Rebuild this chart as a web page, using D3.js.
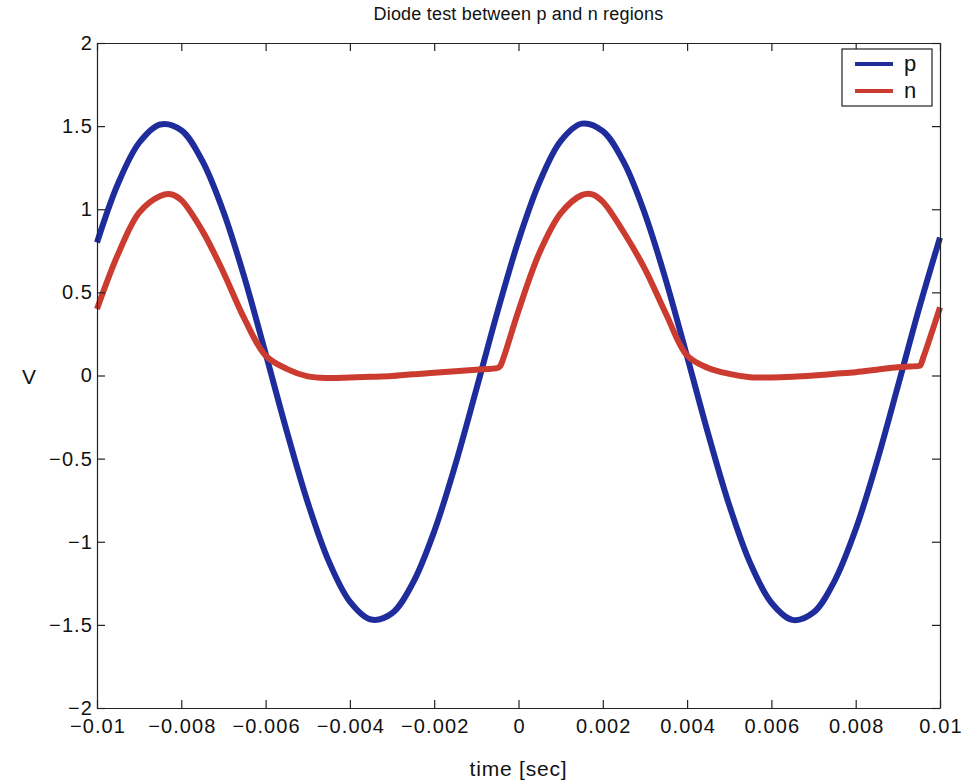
<!DOCTYPE html>
<html><head><meta charset="utf-8">
<script src="https://cdn.jsdelivr.net/npm/d3@7"></script>
<style>body{margin:0;background:#fff}svg{display:block}text{font-family:"Liberation Sans",Arial,Helvetica,sans-serif;fill:#111}</style>
</head><body><div id="chart"></div>
<script>
// time grid (sec) for p, step 0.0005 from -0.01 to 0.01
const pTime = d3.range(41).map(i => +(-0.01 + i*0.0005).toFixed(5));
const pValues = [0.80,1.155,1.40,1.51,1.475,1.29,0.985,0.587,0.132,-0.333,
  -0.764,-1.118,-1.360,-1.468,-1.43,-1.245,-0.938,-0.538,-0.083,0.382,
  0.812,1.164,1.41,1.515,1.47,1.282,0.972,0.570,0.114,-0.351,
  -0.780,-1.130,-1.367,-1.47,-1.425,-1.235,-0.925,-0.521,-0.065,0.400,0.83];
const nTime = [-0.01,-0.0095,-0.009,-0.0085,-0.00825,-0.008,-0.0075,-0.007,-0.0065,-0.006,-0.0055,
  -0.005,-0.0045,-0.004,-0.0035,-0.003,-0.0025,-0.002,-0.0015,-0.001,-0.0005,-0.00044,-0.00035,
  0,0.0005,0.001,0.0015,0.00175,0.002,0.0025,0.003,0.0035,0.004,0.0045,
  0.005,0.0055,0.006,0.0065,0.007,0.0075,0.008,0.0085,0.009,0.0095,0.00953,0.00962,0.01];
const nValues = [0.40,0.73,0.98,1.08,1.09,1.055,0.87,0.62,0.34,0.12,0.04,
  -0.005,-0.015,-0.012,-0.008,-0.003,0.008,0.016,0.025,0.035,0.045,0.055,0.11,
  0.39,0.74,0.975,1.085,1.09,1.045,0.86,0.64,0.37,0.12,0.045,
  0.01,-0.01,-0.012,-0.008,0.0,0.01,0.02,0.035,0.05,0.058,0.06,0.12,0.41];
const xTicks = [-0.01,-0.008,-0.006,-0.004,-0.002,0,0.002,0.004,0.006,0.008,0.01];
const yTicks = [-2,-1.5,-1,-0.5,0,0.5,1,1.5,2];
const seriesNames = ["p","n"];
const seriesColors = ["#1f2d9c","#cc3b2f"];

const W = 962, H = 782;
const L = 97, R = 940, T = 43, B = 708;
const svg = d3.select("#chart").append("svg").attr("width", W).attr("height", H);
const x = d3.scaleLinear().domain([-0.01, 0.01]).range([L, R]);
const y = d3.scaleLinear().domain([-2, 2]).range([B, T]);

const fmt = v => (v < 0 ? "\u2212" : "") + String(Math.abs(v));

// plot lines
const line = d3.line().x(d => x(d[0])).y(d => y(d[1])).curve(d3.curveCatmullRom.alpha(0.5));
const pData = pTime.map((t,i) => [t, pValues[i]]);
const nData = nTime.map((t,i) => [t, nValues[i]]);
const g = svg.append("g");
g.append("path").datum(pData).attr("d", line).attr("fill","none")
  .attr("stroke", seriesColors[0]).attr("stroke-width", 6).attr("stroke-linejoin","round");
g.append("path").datum(nData).attr("d", line).attr("fill","none")
  .attr("stroke", seriesColors[1]).attr("stroke-width", 6).attr("stroke-linejoin","round");

// axes (inward ticks on all sides)
const tl = 8;
const axB = svg.append("g").attr("transform", `translate(0,${B})`)
  .call(d3.axisBottom(x).tickValues(xTicks).tickSizeInner(-tl).tickSizeOuter(0).tickFormat(fmt).tickPadding(11));
const axT = svg.append("g").attr("transform", `translate(0,${T})`)
  .call(d3.axisTop(x).tickValues(xTicks).tickSizeInner(-tl).tickSizeOuter(0).tickFormat(""));
const axL = svg.append("g").attr("transform", `translate(${L},0)`)
  .call(d3.axisLeft(y).tickValues(yTicks).tickSizeInner(-tl).tickSizeOuter(0).tickFormat(fmt).tickPadding(4));
const axR = svg.append("g").attr("transform", `translate(${R},0)`)
  .call(d3.axisRight(y).tickValues(yTicks).tickSizeInner(-tl).tickSizeOuter(0).tickFormat(""));
[axB,axT,axL,axR].forEach(a => {
  a.attr("font-size", null).attr("font-family", null);
  a.selectAll("path,line").attr("stroke","#222").attr("stroke-width",1.2);
  a.selectAll("text").style("font-size","20px").style("letter-spacing","1.1px").attr("fill","#111");
});
axB.selectAll(".tick text").attr("dy","0.71em").attr("dx","0.5px");

// titles
svg.append("text").attr("x", (L+R)/2).attr("y", 20).attr("text-anchor","middle")
  .style("font-size","18px").style("letter-spacing","0.2px").text("Diode test between p and n regions");
svg.append("text").attr("x", (L+R)/2).attr("y", 776).attr("text-anchor","middle")
  .style("font-size","21px").style("letter-spacing","0.8px").text("time [sec]");
svg.append("text").attr("x", 29).attr("y", 377).attr("text-anchor","middle").attr("dy","0.35em")
  .style("font-size","21px").text("V");

// legend
const lg = svg.append("g");
lg.append("rect").attr("x",842).attr("y",49).attr("width",90).attr("height",57)
  .attr("fill","#fff").attr("stroke","#222").attr("stroke-width",1.2);
seriesNames.forEach((s,i) => {
  const yy = 64 + i*27;
  lg.append("line").attr("x1",855).attr("x2",893).attr("y1",yy).attr("y2",yy)
    .attr("stroke",seriesColors[i]).attr("stroke-width",4);
  lg.append("text").attr("x",904).attr("y",yy).attr("dy","0.32em").style("font-size","22px").text(s);
});
</script></body></html>
